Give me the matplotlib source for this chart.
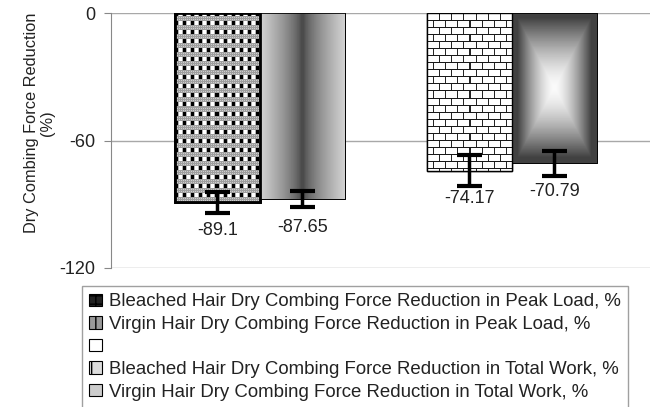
import numpy as np
import matplotlib
matplotlib.use("Agg")
import matplotlib.pyplot as plt
from matplotlib.patches import Patch

plt.rcParams['font.family'] = ['Liberation Sans', 'DejaVu Sans']
plt.rcParams['axes.unicode_minus'] = False
plt.rcParams['hatch.linewidth'] = 1.0

# datos
categorias = ["Peak Load", "Total Work"]
bleached = [-89.1, -74.17]
virgin = [-87.65, -70.79]
err_bleached = [5.0, 7.3]
err_virgin = [3.8, 5.7]
etiquetas = [
    "Bleached Hair Dry Combing Force Reduction in Peak Load, %",
    "Virgin Hair Dry Combing Force Reduction in Peak Load, %",
    "",
    "Bleached Hair Dry Combing Force Reduction in Total Work, %",
    "Virgin Hair Dry Combing Force Reduction in Total Work, %",
]

fig = plt.figure(figsize=(6.5, 4.07), dpi=100)
ax = fig.add_axes([111/650, 1-268/407, 1-111/650, (268-13)/407])

ancho = 0.337
x = np.arange(len(categorias))
pos = [x[0]-ancho/2, x[0]+ancho/2, x[1]-ancho/2, x[1]+ancho/2]
vals = [bleached[0], virgin[0], bleached[1], virgin[1]]
errs = [err_bleached[0], err_virgin[0], err_bleached[1], err_virgin[1]]

ax.set_xlim(-0.591, 1.548)
ax.set_ylim(-120, 0)

bordes = [2, 0.6, 1, 0.6]
barras = ax.bar(pos, vals, width=ancho, color="white", edgecolor="black",
                linewidth=bordes, zorder=2)


def texturas(i, nx, ny):
    if i == 0:
        # cuadros negros y blancos con lineas grises
        tile = np.full((9, 8), 0.62)
        tile[5:9:2, ::2] = 0.8
        tile[0:4, 0:3] = 0.0
        tile[0:4, 3] = 0.7
        tile[0:4, 4:7] = 1.0
        tile[0:4, 7] = 0.7
        return np.tile(tile, (ny // 9 + 1, nx // 8 + 1))[:ny, :nx]
    if i == 1:
        t = np.linspace(-1, 1, nx)
        fila = 0.27 + 0.55 * np.abs(t) ** 0.7
        return np.tile(fila, (ny, 1))
    if i == 2:
        # ladrillos
        tile = np.ones((14, 12))
        tile[0, :] = 0.1
        tile[7, :] = 0.1
        tile[1:7, 0] = 0.15
        tile[8:14, 6] = 0.15
        return np.tile(tile, (ny // 14 + 1, nx // 12 + 1))[:ny, :nx]
    tx = np.linspace(-1, 1, nx)
    ty = np.linspace(-1, 1, ny)
    X, Y = np.meshgrid(tx, ty)
    d = np.maximum(np.abs(X) * 1.15, np.abs(Y) * 1.08)
    d = np.clip(d, 0, 1)
    return 0.98 - 0.72 * d ** 1.5


for i, p in enumerate(barras):
    x0, y0 = p.get_x(), p.get_y()
    w, h = p.get_width(), p.get_height()
    (px0, py0), (px1, py1) = ax.transData.transform([(x0, y0), (x0 + w, y0 + h)])
    nx, ny = int(abs(px1 - px0)), int(abs(py1 - py0))
    img = texturas(i, nx, ny)
    im = ax.imshow(img, cmap="gray", vmin=0, vmax=1, interpolation="nearest",
                   extent=(x0, x0 + w, y0 + h, y0), aspect="auto", zorder=2.1)
    im.set_clip_path(p)

# bordes encima de las texturas
ax.bar(pos, vals, width=ancho, color="none", edgecolor="black",
       linewidth=bordes, zorder=2.2)

ax.errorbar(pos, vals, yerr=errs, fmt="none", ecolor="black", elinewidth=2.5,
            capsize=9, capthick=3, zorder=3)

for xx, v in zip(pos, vals):
    ax.annotate(str(v), (xx, v), xytext=(0, -28), textcoords="offset pixels",
                ha="center", va="center", fontsize=13, color="#222222")

ax.set_xlim(-0.591, 1.548)
ax.set_ylim(-120, 0)
ax.set_yticks([0, -60, -120])
ax.set_xticks([])
ax.yaxis.grid(True, color="#a8a8a8", linewidth=1)
ax.set_axisbelow(True)
for s in ["top", "right", "bottom"]:
    ax.spines[s].set_visible(False)
ax.spines["left"].set_color("#888888")
ax.tick_params(axis="y", colors="#888888", labelcolor="#222222", labelsize=13,
               length=5, pad=6)
ax.set_ylabel("Dry Combing Force Reduction\n(%)", fontsize=11.8, color="#222222",
              linespacing=1.1)
ax.yaxis.set_label_coords(-0.104, 0.569)

# leyenda con cuadritos parecidos a las texturas
handles = [
    Patch(facecolor="#222222", edgecolor="black", hatch="++", linewidth=0.8),
    Patch(facecolor="#999999", edgecolor="black", hatch="||", linewidth=0.8),
    Patch(facecolor="white", edgecolor="black", linewidth=0.8),
    Patch(facecolor="#dddddd", edgecolor="black", hatch="+", linewidth=0.8),
    Patch(facecolor="#cccccc", edgecolor="black", linewidth=0.8),
]
leg = fig.legend(handles, etiquetas, loc="upper left",
                 bbox_to_anchor=(82/650, 1-286/407), fontsize=13.4,
                 frameon=True, fancybox=False, edgecolor="#888888",
                 handlelength=0.65, handleheight=0.65, handletextpad=0.4,
                 labelspacing=0.3, borderpad=0.4, borderaxespad=0)
for t in leg.get_texts():
    t.set_color("#222222")

fig.savefig("out.png", dpi=100)
